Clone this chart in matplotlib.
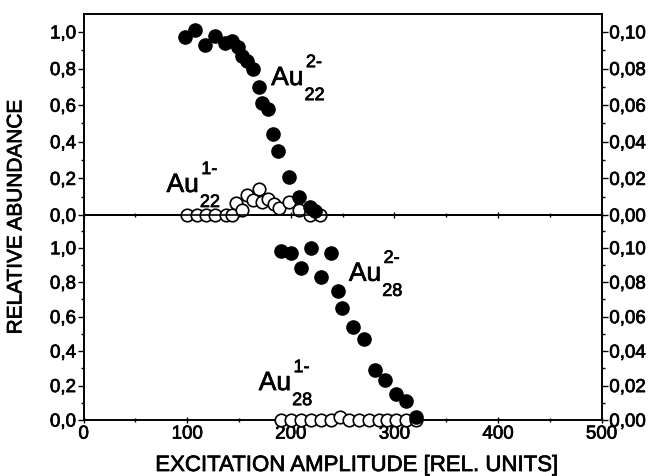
import matplotlib
matplotlib.use("Agg")
import matplotlib.pyplot as plt
import matplotlib.patheffects as pe
from matplotlib.ticker import MultipleLocator, FuncFormatter

plt.rcParams['font.family'] = ['Liberation Sans', 'DejaVu Sans']

# ---- data ----
au22_2_x = [98, 107, 117, 127, 136, 143, 149, 153, 158, 163, 169, 172, 178, 183, 188, 198, 208, 218, 223]
au22_2_y = [0.97, 1.01, 0.93, 0.98, 0.94, 0.95, 0.92, 0.87, 0.84, 0.80, 0.70, 0.61, 0.58, 0.44, 0.35, 0.21, 0.10, 0.045, 0.02]

au22_1_x = [100, 109, 118, 127, 137, 143, 147, 153, 158, 163, 169, 172, 178, 184, 189, 198, 208, 218, 228]
au22_1_y = [0.0, 0.0, 0.0, 0.0, 0.0, 0.0, 0.065, 0.03, 0.11, 0.08, 0.14, 0.073, 0.086, 0.06, 0.037, 0.073, 0.027, 0.0, 0.0]

au28_2_x = [190, 200, 210, 219, 229, 239, 245, 249, 260, 271, 281, 291, 301, 311, 321]
au28_2_y = [0.98, 0.97, 0.88, 1.00, 0.83, 0.97, 0.75, 0.65, 0.54, 0.47, 0.29, 0.23, 0.15, 0.11, 0.02]

au28_1_x = [190, 200, 210, 219, 229, 239, 247, 256, 266, 275, 285, 293, 301, 311, 321]
au28_1_y = [0.0, 0.0, 0.0, 0.0, 0.0, 0.0, 0.02, 0.0, 0.0, 0.0, 0.0, 0.0, 0.0, 0.0, 0.0]

x_ticks = [0, 100, 200, 300, 400, 500]
y_ticks = [0.0, 0.2, 0.4, 0.6, 0.8, 1.0]

stroke = [pe.withStroke(linewidth=0.5, foreground='black')]

fig = plt.figure(figsize=(6.59, 4.76), dpi=100)
L, W = 0.127, 0.786
ax1 = fig.add_axes([L, 0.5483, W, 0.4223])
ax2 = fig.add_axes([L, 0.1176, W, 0.4307])

comma1 = FuncFormatter(lambda v, p: f"{v:.1f}".replace('.', ','))
comma2 = FuncFormatter(lambda v, p: f"{v:.2f}".replace('.', ','))

TS = 13.5
all_axes = []

for ax, ymax in ((ax1, 1.098), (ax2, 1.19)):
    ax.set_xlim(0, 500)
    ax.set_ylim(0, ymax)
    ax.set_xticks(x_ticks)
    ax.xaxis.set_minor_locator(MultipleLocator(50))
    ax.set_yticks(y_ticks)
    ax.yaxis.set_minor_locator(MultipleLocator(0.1))
    ax.yaxis.set_major_formatter(comma1)
    ax.tick_params(axis='y', which='major', direction='out', length=4, width=1, labelsize=TS, pad=1.5)
    ax.tick_params(axis='y', which='minor', direction='out', length=2, width=1)
    ax.tick_params(axis='x', which='major', direction='inout', length=5, width=1, labelsize=TS, pad=1.5)
    ax.tick_params(axis='x', which='minor', direction='inout', length=3, width=1)
    for s in ax.spines.values():
        s.set_linewidth(1.2)
    axr = ax.twinx()
    axr.set_ylim(0, ymax * 0.1)
    axr.set_yticks([v * 0.1 for v in y_ticks])
    axr.yaxis.set_minor_locator(MultipleLocator(0.01))
    axr.yaxis.set_major_formatter(comma2)
    axr.tick_params(axis='y', which='major', direction='out', length=4, width=1, labelsize=TS, pad=1.5)
    axr.tick_params(axis='y', which='minor', direction='out', length=2, width=1)
    for s in axr.spines.values():
        s.set_linewidth(1.2)
    ax.set_zorder(axr.get_zorder() + 1)
    ax.patch.set_visible(False)
    all_axes += [ax, axr]

ax1.tick_params(axis='x', labelbottom=False)

filled = dict(linestyle='none', marker='o', ms=9.5, mfc='black', mec='black', clip_on=False, zorder=5)
opened = dict(linestyle='none', marker='o', ms=9, mfc='white', mec='black', mew=1.2, clip_on=False, zorder=4)

ax1.plot(au22_1_x, au22_1_y, **opened)
ax1.plot(au22_2_x, au22_2_y, **filled)
ax2.plot(au28_1_x, au28_1_y, **opened)
ax2.plot(au28_2_x, au28_2_y, **filled)

def ion_label(ax, x, y, sup, sub):
    ax.text(x, y, "Au", fontsize=19, ha='left', va='baseline', path_effects=stroke)
    ax.annotate(sup, xy=(x, y), xytext=(25, 10), textcoords='offset points',
                fontsize=13, ha='left', va='bottom', path_effects=stroke)
    ax.annotate(sub, xy=(x, y), xytext=(24, -1.5), textcoords='offset points',
                fontsize=13, ha='left', va='top', path_effects=stroke)

ion_label(ax1, 181, 0.71, "2-", "22")
ion_label(ax1, 80, 0.126, "1-", "22")
ion_label(ax2, 256, 0.808, "2-", "28")
ion_label(ax2, 169, 0.174, "1-", "28")

fig.text(0.024, 0.545, "RELATIVE ABUNDANCE", rotation=90, ha='center', va='center',
         fontsize=15, path_effects=stroke)
fig.text(0.542, 0.022, "EXCITATION AMPLITUDE [REL. UNITS]", ha='center', va='center',
         fontsize=16, path_effects=stroke)

for a in all_axes:
    for lbl in a.get_xticklabels() + a.get_yticklabels():
        lbl.set_path_effects(stroke)

fig.savefig("out.png", dpi=100)
